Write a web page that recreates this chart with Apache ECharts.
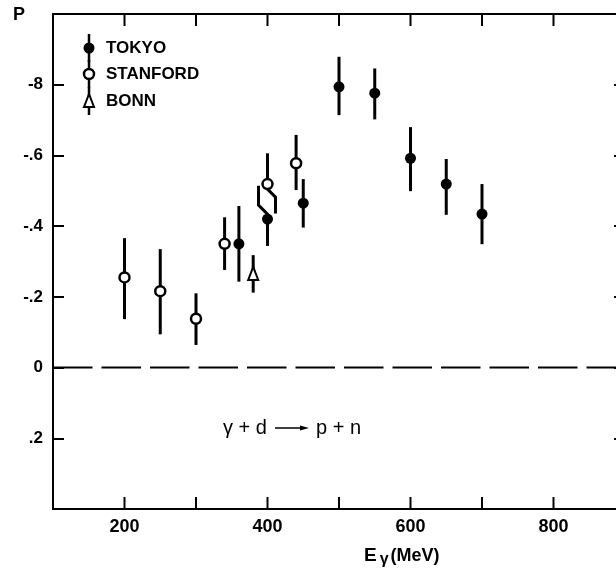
<!DOCTYPE html>
<html><head><meta charset="utf-8">
<script src="https://cdn.jsdelivr.net/npm/echarts@6/dist/echarts.min.js"></script>
<style>html,body{margin:0;padding:0;background:#fff}#c{width:616px;height:572px}</style>
</head><body><div id="c"></div>
<script>
// ---- data ----
const xLabelValues = [200, 400, 600, 800];
const xTickValues = [200, 300, 400, 500, 600, 700, 800];
const yLabelText = { '-0.8': '-8', '-0.6': '-.6', '-0.4': '-.4', '-0.2': '-.2', '0': '0', '0.2': '.2' };

const tokyoE   = [360, 400, 450, 500, 550, 600, 650, 700];
const tokyoP   = [-0.350, -0.420, -0.465, -0.794, -0.776, -0.592, -0.519, -0.434];
const tokyoTop = [-0.457, -0.514, -0.533, -0.879, -0.846, -0.680, -0.590, -0.519];
const tokyoBot = [-0.243, -0.344, -0.396, -0.714, -0.702, -0.499, -0.432, -0.349];

const stanE   = [200, 250, 300, 340, 400, 440];
const stanP   = [-0.255, -0.216, -0.138, -0.350, -0.519, -0.578];
const stanTop = [-0.366, -0.335, -0.210, -0.425, -0.606, -0.658];
const stanBot = [-0.137, -0.094, -0.064, -0.276, -0.436, -0.502];

const bonnE   = [380];
const bonnP   = [-0.265];
const bonnTop = [-0.318];
const bonnBot = [-0.212];

const zeroLineE = [100, 900];
const zeroLineP = [0, 0];

const legendNames = ['TOKYO', 'STANFORD', 'BONN'];
const reactionLeft = 'γ + d';
const reactionRight = 'p + n';

// ---- style ----
const FONT = 'Liberation Sans, Arial, sans-serif';
const Y_MIN = -1, Y_MAX = 0.4;
const kinkStyle = { tokyo: { 1: { up: -9 } }, stanford: { 4: { down: 8 } }, bonn: {} };

function pack(E, P, T, B) { return E.map((e, i) => [e, P[i], T[i], B[i]]); }

function symbolShape(kind, x, y) {
  if (kind === 'filled') return { type: 'circle', shape: { cx: x, cy: y, r: 5.5 }, style: { fill: '#000' } };
  if (kind === 'open') return { type: 'circle', shape: { cx: x, cy: y, r: 5 }, style: { fill: '#fff', stroke: '#000', lineWidth: 2.5 } };
  return { type: 'polygon', shape: { points: [[x, y - 7], [x - 5, y + 6], [x + 5, y + 6]] }, style: { fill: '#fff', stroke: '#000', lineWidth: 2 } };
}

function barPath(x, y, endY, shift, dir) {
  if (!shift) return [[x, y], [x, endY]];
  const a = y + dir * 5;
  const b = a + dir * Math.abs(shift);
  return [[x, y], [x, a], [x + shift, b], [x + shift, endY]];
}

function makeRender(kind, kinks) {
  return function (params, api) {
    const i = params.dataIndex;
    const c = api.coord([api.value(0), api.value(1)]);
    const t = api.coord([api.value(0), api.value(2)]);
    const b = api.coord([api.value(0), api.value(3)]);
    const k = kinks[i] || {};
    const ls = { stroke: '#000', lineWidth: 3, fill: null };
    return {
      type: 'group',
      children: [
        { type: 'polyline', shape: { points: barPath(c[0], c[1], t[1], k.up, -1) }, style: ls },
        { type: 'polyline', shape: { points: barPath(c[0], c[1], b[1], k.down, 1) }, style: ls },
        symbolShape(kind, c[0], c[1])
      ]
    };
  };
}

function makeTickRender(edgeValue, dir) {
  return function (params, api) {
    const p = api.coord([api.value(0), edgeValue]);
    const y0 = dir < 0 ? p[1] - 12 : p[1];
    return { type: 'rect', shape: { x: p[0] - 1, y: y0, width: 2, height: 12 }, style: { fill: '#000' } };
  };
}

function axisLine() { return { show: true, onZero: false, lineStyle: { color: '#000', width: 2 } }; }
function yTick() { return { show: true, inside: true, length: 11, lineStyle: { color: '#000', width: 2 } }; }

const chart = echarts.init(document.getElementById('c'), null, { renderer: 'canvas' });

function legendItem(kind, y, name) {
  const x = 89;
  return [
    { type: 'line', shape: { x1: x, y1: y - 14, x2: x, y2: y + 14 }, style: { stroke: '#000', lineWidth: 2.5 } },
    Object.assign(symbolShape(kind, x, y), { z: 101 }),
    { type: 'text', x: 106, y: y, style: { text: name, fill: '#000', font: 'bold 17px ' + FONT, textVerticalAlign: 'middle' } }
  ];
}

chart.setOption({
  animation: false,
  backgroundColor: '#fff',
  grid: { left: 53, width: 572, top: 14, bottom: 63, containLabel: false, outerBoundsMode: 'none' },
  xAxis: [
    {
      type: 'value', position: 'bottom', min: 100, max: 900, interval: 100,
      axisLine: axisLine(), axisTick: { show: false }, splitLine: { show: false },
      axisLabel: {
        margin: 9, color: '#000', fontFamily: FONT, fontWeight: 'bold', fontSize: 18,
        formatter: v => (xLabelValues.indexOf(v) >= 0 ? String(v) : '')
      }
    },
    {
      type: 'value', position: 'top', min: 100, max: 900, interval: 100,
      axisLine: axisLine(), axisTick: { show: false },
      axisLabel: { show: false }, splitLine: { show: false }
    }
  ],
  yAxis: [
    {
      type: 'value', position: 'left', min: Y_MIN, max: Y_MAX, interval: 0.2, inverse: true,
      axisLine: axisLine(), axisTick: yTick(), splitLine: { show: false },
      axisLabel: {
        margin: 10, color: '#000', fontFamily: FONT, fontWeight: 'bold', fontSize: 17,
        formatter: v => { const key = String(Math.round(v * 10) / 10); return yLabelText[key] || ''; }
      }
    },
    {
      type: 'value', position: 'right', min: Y_MIN, max: Y_MAX, interval: 0.2, inverse: true,
      axisLine: axisLine(), axisTick: yTick(),
      axisLabel: { show: false }, splitLine: { show: false }
    }
  ],
  series: [
    {
      type: 'line', name: 'zero', data: zeroLineE.map((e, i) => [e, zeroLineP[i]]),
      symbol: 'none', silent: true, z: 1,
      lineStyle: { color: '#000', width: 2, type: [39.5, 9] }
    },
    {
      type: 'custom', name: 'STANFORD', renderItem: makeRender('open', kinkStyle.stanford),
      data: pack(stanE, stanP, stanTop, stanBot), encode: { x: 0, y: 1 }, z: 3, silent: true
    },
    {
      type: 'custom', name: 'TOKYO', renderItem: makeRender('filled', kinkStyle.tokyo),
      data: pack(tokyoE, tokyoP, tokyoTop, tokyoBot), encode: { x: 0, y: 1 }, z: 4, silent: true
    },
    {
      type: 'custom', name: 'BONN', renderItem: makeRender('triangle', kinkStyle.bonn),
      data: pack(bonnE, bonnP, bonnTop, bonnBot), encode: { x: 0, y: 1 }, z: 3, silent: true
    },
    {
      type: 'custom', name: 'xticksBottom', renderItem: makeTickRender(Y_MAX, -1),
      data: xTickValues.map(v => [v, -0.3]), encode: { x: 0, y: 1 }, silent: true, z: 6, clip: false
    },
    {
      type: 'custom', name: 'xticksTop', renderItem: makeTickRender(Y_MIN, 1),
      data: xTickValues.map(v => [v, -0.3]), encode: { x: 0, y: 1 }, silent: true, z: 6, clip: false
    }
  ],
  graphic: {
    elements: [
      { type: 'text', x: 13, y: 6, style: { text: 'P', fill: '#000', font: 'bold 18px ' + FONT } },
      ...legendItem('filled', 48, legendNames[0]),
      ...legendItem('open', 74, legendNames[1]),
      ...legendItem('triangle', 101, legendNames[2]),
      { type: 'text', x: 223, y: 428, style: { text: reactionLeft, fill: '#000', font: '20px ' + FONT, textVerticalAlign: 'middle' } },
      { type: 'line', shape: { x1: 275, y1: 428, x2: 302, y2: 428 }, style: { stroke: '#000', lineWidth: 1.5 } },
      { type: 'polygon', shape: { points: [[300, 425.5], [309, 428], [300, 430.5]] }, style: { fill: '#000' } },
      { type: 'text', x: 316, y: 428, style: { text: reactionRight, fill: '#000', font: '20px ' + FONT, textVerticalAlign: 'middle' } },
      {
        type: 'text', x: 364, y: 544,
        style: {
          text: '{e|E}{g|γ}{m|(MeV)}',
          rich: {
            e: { font: 'bold 19px ' + FONT, fill: '#000' },
            g: { font: 'bold 16px ' + FONT, fill: '#000', padding: [8, 2, 0, 3] },
            m: { font: 'bold 18px ' + FONT, fill: '#000' }
          }
        }
      }
    ]
  }
});
</script>
</body></html>
